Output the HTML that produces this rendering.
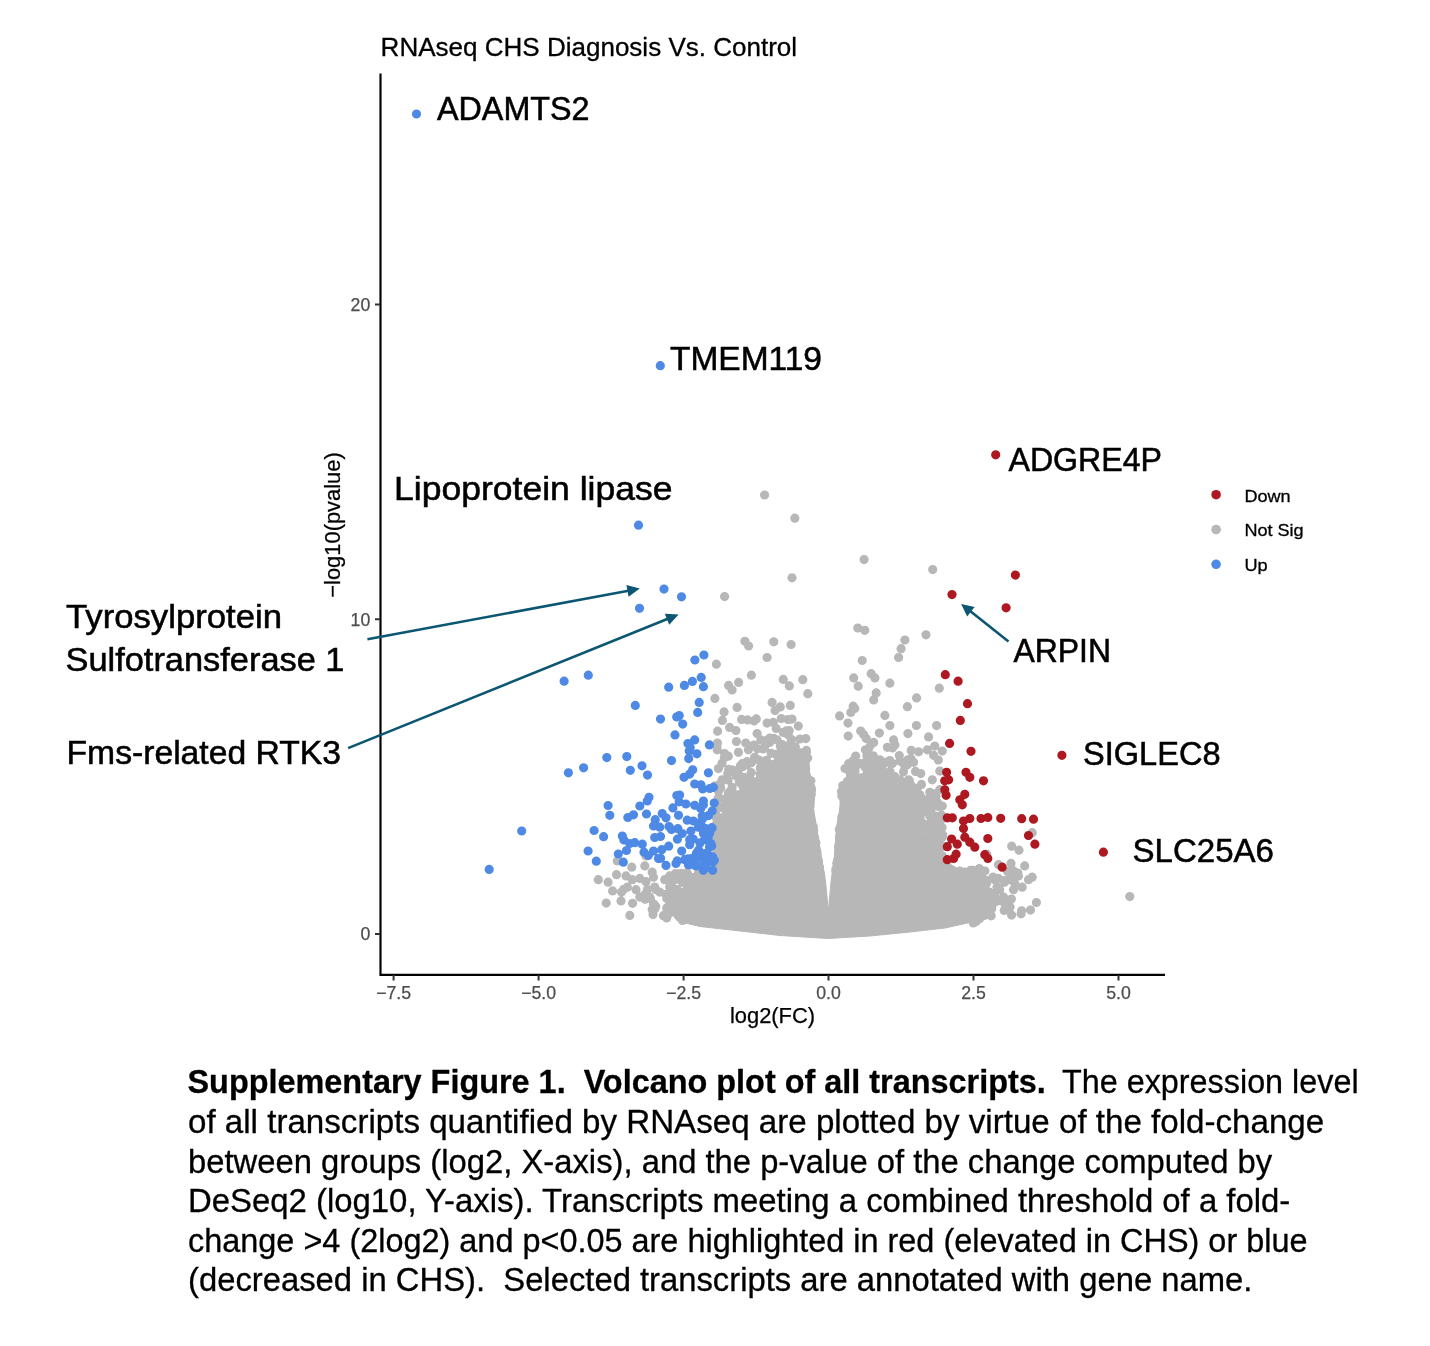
<!DOCTYPE html><html><head><meta charset="utf-8"><title>Volcano plot</title>
<style>html,body{margin:0;padding:0;background:#fff}svg{display:block;will-change:transform}text{font-family:"Liberation Sans",sans-serif}</style></head><body>
<svg width="1430" height="1346" viewBox="0 0 1430 1346">
<rect width="1430" height="1346" fill="#fff"/>
<text x="380.6" y="56.2" font-size="26" textLength="416.5" lengthAdjust="spacingAndGlyphs" fill="#000" stroke="#000" stroke-width="0.3" xml:space="preserve">RNAseq CHS Diagnosis Vs. Control</text>
<path d="M828.4,911.0 L825.6,882.0 L821.1,855.0 L816.5,827.0 L813.5,809.0 L815.5,788.0 L809.5,773.0 L809.0,758.0 L802.0,752.0 L795.0,755.0 L787.0,762.0 L776.0,765.0 L773.0,775.0 L760.0,780.0 L754.5,790.0 L742.0,797.0 L736.5,810.0 L724.0,815.0 L717.5,828.0 L716.0,847.0 L717.0,865.0 L709.5,872.0 L695.0,877.0 L687.0,890.0 L683.0,905.0 L681.0,922.0 L700.0,926.5 L740.0,931.0 L780.0,935.5 L828.0,938.5 L870.0,936.0 L910.0,932.0 L945.0,928.0 L972.0,922.0 L984.5,914.5 L987.5,897.0 L980.0,880.0 L960.0,870.0 L945.0,861.0 L937.0,856.5 L924.0,847.0 L911.0,840.0 L909.0,813.0 L906.0,795.0 L900.0,787.0 L882.0,781.0 L875.0,777.0 L864.0,777.0 L848.0,782.0 L843.0,786.0 L840.0,797.0 L840.0,809.0 L836.5,827.0 L834.5,855.0 L831.0,882.0Z" fill="#b7b7b7" stroke="#b7b7b7" stroke-width="1" stroke-linejoin="round"/>
<path d="M807.7,758.0h0M804.4,755.6h0M803.1,753.0h0M806.4,752.3h0M806.4,750.4h0M850.8,712.4h0M800.6,752.9h0M796.3,754.1h0M788.2,734.8h0M788.0,719.6h0M795.3,746.8h0M789.2,730.7h0M799.9,739.0h0M791.5,739.5h0M791.5,747.8h0M789.8,744.4h0M791.3,755.2h0M790.3,757.6h0M788.6,758.8h0M767.1,740.1h0M790.3,756.0h0M788.6,754.0h0M786.6,756.7h0M787.1,748.7h0M781.0,747.6h0M769.8,738.0h0M784.3,752.3h0M754.1,720.9h0M790.2,750.9h0M780.4,746.2h0M785.7,750.7h0M784.3,760.3h0M780.7,763.1h0M777.1,763.5h0M773.9,738.4h0M776.3,754.4h0M782.1,744.6h0M783.8,757.9h0M784.2,759.8h0M783.5,753.4h0M776.2,728.5h0M780.8,754.5h0M787.2,757.7h0M771.1,753.3h0M783.8,759.0h0M778.5,759.3h0M773.8,764.4h0M775.3,770.4h0M774.8,773.9h0M740.4,765.8h0M769.6,769.4h0M760.3,768.2h0M747.1,761.5h0M742.3,763.6h0M766.4,775.6h0M766.0,766.9h0M768.7,765.7h0M722.0,763.3h0M724.3,757.8h0M769.3,766.7h0M759.0,760.1h0M769.4,774.4h0M767.8,775.8h0M764.3,779.6h0M760.3,777.6h0M760.9,766.3h0M763.1,749.0h0M751.2,772.6h0M765.7,772.5h0M773.9,769.7h0M757.5,748.8h0M751.3,762.8h0M773.3,772.5h0M747.2,764.8h0M753.8,745.1h0M760.2,773.7h0M766.4,760.3h0M770.0,764.7h0M768.7,764.0h0M745.7,743.1h0M764.4,763.2h0M760.3,782.4h0M758.0,785.2h0M754.8,785.9h0M736.3,776.0h0M743.6,778.8h0M751.3,787.9h0M735.6,771.1h0M744.1,777.4h0M739.3,781.9h0M744.8,779.6h0M744.7,782.1h0M738.7,774.7h0M742.9,779.7h0M727.8,773.5h0M755.3,781.9h0M754.3,791.5h0M748.5,791.5h0M745.9,795.8h0M742.3,795.5h0M716.9,745.9h0M749.7,778.2h0M728.7,769.4h0M746.2,784.8h0M748.0,784.3h0M741.5,784.3h0M747.9,784.0h0M717.6,731.2h0M717.4,743.1h0M742.5,766.8h0M744.0,791.1h0M743.7,788.3h0M728.3,756.2h0M750.2,789.0h0M746.1,782.2h0M739.6,798.4h0M738.7,799.8h0M737.4,803.0h0M737.4,808.3h0M731.7,803.5h0M728.5,793.1h0M739.1,796.7h0M732.9,798.1h0M730.2,791.3h0M733.8,793.8h0M720.7,787.9h0M731.3,808.4h0M714.8,785.9h0M728.3,796.2h0M719.2,797.9h0M729.5,804.2h0M727.4,805.0h0M737.7,799.7h0M732.1,803.2h0M739.2,794.8h0M734.5,811.2h0M732.7,811.9h0M729.1,813.9h0M725.9,814.7h0M721.4,807.5h0M727.3,800.4h0M727.9,807.4h0M731.9,808.1h0M732.9,808.6h0M727.9,796.1h0M718.5,791.1h0M718.1,806.7h0M728.1,780.1h0M718.2,798.1h0M724.5,799.8h0M720.5,783.2h0M723.4,817.5h0M723.2,818.8h0M721.1,823.2h0M717.1,827.1h0M716.9,822.4h0M716.3,814.9h0M719.3,819.4h0M715.4,816.4h0M716.8,830.6h0M715.7,833.9h0M714.9,834.9h0M718.0,839.1h0M716.0,840.6h0M716.4,845.3h0M716.8,849.6h0M716.7,850.8h0M716.1,854.2h0M714.8,859.0h0M718.2,861.5h0M715.5,862.2h0M716.5,866.4h0M719.5,859.2h0M707.5,872.9h0M706.3,874.7h0M700.8,872.7h0M698.2,873.5h0M698.0,876.6h0M699.3,872.0h0M695.2,877.3h0M693.8,880.3h0M689.5,884.3h0M688.7,887.2h0M687.0,889.5h0M686.6,872.8h0M689.0,876.0h0M687.1,879.1h0M687.4,873.5h0M686.8,879.6h0M676.8,878.5h0M679.5,873.9h0M688.1,881.4h0M687.6,875.1h0M687.2,879.1h0M680.9,880.1h0M690.6,879.8h0M675.5,873.6h0M686.5,891.9h0M686.7,894.7h0M684.6,896.7h0M684.9,902.1h0M681.7,903.0h0M682.0,892.6h0M623.7,889.3h0M673.8,901.2h0M666.7,898.3h0M677.6,901.8h0M654.7,887.0h0M675.9,892.3h0M675.9,893.7h0M647.4,889.5h0M672.1,886.7h0M679.6,902.3h0M669.9,896.9h0M669.4,894.0h0M666.0,894.4h0M670.3,884.8h0M679.1,895.3h0M678.8,900.6h0M682.0,894.0h0M682.7,905.3h0M683.7,910.3h0M683.1,914.1h0M679.9,917.5h0M682.5,920.5h0M632.6,903.3h0M650.4,898.6h0M669.0,913.8h0M655.8,906.5h0M645.1,899.2h0M653.9,904.1h0M669.2,908.3h0M677.9,906.8h0M663.4,915.7h0M666.7,907.9h0M678.0,915.4h0M654.8,908.7h0M606.2,903.1h0M973.3,922.9h0M976.2,921.6h0M979.6,918.7h0M984.9,915.3h0M985.2,914.6h0M984.7,907.5h0M986.7,907.0h0M987.7,902.4h0M986.6,897.5h0M987.5,913.7h0M989.3,899.0h0M1011.4,899.0h0M991.7,908.7h0M1007.3,905.6h0M1008.7,903.0h0M1011.6,915.1h0M993.7,901.7h0M1021.6,910.8h0M991.2,915.8h0M1010.1,906.9h0M1021.1,913.8h0M1004.6,903.6h0M1005.2,909.0h0M1007.9,902.9h0M998.2,900.8h0M991.8,906.3h0M989.4,905.6h0M986.5,897.4h0M985.0,891.6h0M983.6,891.5h0M984.9,887.9h0M982.9,883.4h0M979.2,881.2h0M1011.1,878.2h0M1017.9,873.0h0M992.1,893.4h0M1007.6,871.5h0M1009.4,872.6h0M989.4,892.2h0M986.5,880.6h0M994.7,896.5h0M1004.9,881.6h0M993.1,877.1h0M998.3,878.3h0M1008.0,879.7h0M1003.8,880.6h0M984.1,880.5h0M986.7,882.9h0M997.0,886.9h0M998.1,888.9h0M1012.6,878.3h0M993.6,896.4h0M978.2,878.6h0M977.3,877.5h0M974.8,875.6h0M970.2,873.2h0M966.7,873.5h0M964.6,872.2h0M959.8,871.2h0M981.6,874.4h0M980.0,869.3h0M972.0,871.4h0M983.2,872.3h0M973.9,872.8h0M972.9,870.3h0M979.3,868.6h0M984.9,871.1h0M970.6,870.3h0M942.9,857.1h0M939.2,856.6h0M943.5,846.3h0M942.3,856.1h0M935.9,850.8h0M935.4,854.1h0M933.5,855.7h0M930.0,850.0h0M927.9,851.2h0M925.9,849.1h0M938.8,852.0h0M942.1,827.6h0M940.7,820.6h0M942.8,834.9h0M934.0,845.7h0M933.7,850.4h0M930.7,846.4h0M939.4,845.0h0M939.2,835.6h0M938.3,841.8h0M937.7,835.1h0M923.8,844.7h0M919.7,844.3h0M916.5,841.2h0M913.7,841.2h0M929.7,816.0h0M929.8,835.1h0M930.6,835.4h0M917.1,833.7h0M920.3,836.3h0M913.1,838.1h0M931.2,809.2h0M920.9,842.9h0M938.8,806.5h0M930.5,804.5h0M921.4,825.9h0M922.9,823.4h0M926.2,825.9h0M926.3,842.3h0M939.1,825.8h0M931.3,817.2h0M911.6,837.6h0M910.4,836.2h0M910.2,832.8h0M911.3,829.6h0M908.6,825.3h0M908.4,823.4h0M911.4,821.5h0M911.5,817.1h0M907.7,814.8h0M913.9,828.2h0M915.5,822.5h0M931.4,838.8h0M913.3,839.5h0M916.0,819.9h0M936.5,834.8h0M942.4,818.1h0M931.4,820.2h0M912.3,828.2h0M929.8,838.7h0M933.1,828.8h0M925.9,829.0h0M930.4,830.0h0M929.1,833.0h0M920.1,818.3h0M935.9,816.0h0M917.9,831.6h0M939.8,821.8h0M927.6,835.4h0M917.6,822.4h0M916.9,820.0h0M926.2,827.4h0M908.3,811.4h0M909.8,807.2h0M909.8,804.6h0M906.2,803.2h0M908.4,799.1h0M907.9,797.2h0M924.8,804.5h0M914.5,805.2h0M933.3,793.8h0M932.0,794.6h0M924.8,811.1h0M919.0,797.9h0M912.6,802.2h0M916.3,800.6h0M917.1,799.5h0M911.0,802.1h0M924.2,803.6h0M921.6,805.3h0M939.7,789.7h0M922.7,801.3h0M936.0,796.6h0M914.3,810.9h0M912.4,812.8h0M918.2,796.6h0M904.4,794.6h0M901.7,790.1h0M901.7,787.5h0M910.9,784.9h0M912.6,795.8h0M905.6,790.1h0M914.8,791.8h0M901.0,783.7h0M915.5,771.4h0M905.1,786.3h0M938.3,760.0h0M920.8,773.6h0M911.9,789.1h0M908.0,789.4h0M899.0,787.6h0M894.5,786.7h0M891.6,785.0h0M891.6,781.9h0M888.0,780.7h0M883.0,779.2h0M898.0,782.5h0M890.0,771.4h0M899.3,755.5h0M899.9,780.6h0M904.4,765.3h0M886.0,775.0h0M893.4,779.8h0M900.9,782.1h0M894.9,776.7h0M882.5,778.1h0M890.9,763.2h0M900.1,779.9h0M909.3,780.4h0M883.9,777.8h0M911.2,750.4h0M916.4,725.5h0M907.8,759.8h0M910.9,758.4h0M886.4,776.9h0M903.5,771.8h0M899.7,781.5h0M880.7,781.6h0M878.7,778.0h0M878.8,772.6h0M889.8,760.5h0M878.9,775.7h0M881.9,769.0h0M879.7,769.9h0M892.5,747.9h0M881.8,766.6h0M881.3,772.6h0M886.4,777.9h0M873.6,776.1h0M871.3,776.4h0M866.0,776.4h0M868.9,747.9h0M865.2,767.3h0M871.9,774.0h0M864.2,763.5h0M876.9,762.7h0M873.6,771.8h0M874.2,770.4h0M873.3,755.8h0M869.7,774.7h0M866.9,755.6h0M873.7,742.4h0M872.8,764.1h0M862.5,777.9h0M860.4,778.0h0M856.9,778.3h0M851.9,781.7h0M848.9,780.2h0M848.3,767.3h0M855.0,770.9h0M839.6,715.9h0M865.5,762.2h0M855.0,768.5h0M850.1,771.7h0M852.9,766.6h0M867.2,771.4h0M851.2,773.7h0M850.4,774.3h0M854.6,768.3h0M852.8,760.9h0M847.2,781.6h0M842.8,785.5h0M843.3,787.0h0M841.5,791.5h0M841.8,795.9h0M810.9,780.8h0M820.4,879.0h0M820.8,875.8h0M820.1,872.5h0M819.6,867.6h0M818.7,865.1h0M818.5,861.2h0M816.5,855.8h0M816.9,853.3h0M816.8,850.9h0M815.7,847.5h0M815.9,842.5h0M814.6,837.8h0M813.1,834.5h0M813.7,830.6h0M812.0,829.0h0M813.4,827.0h0M811.6,821.4h0M810.2,816.5h0M809.4,814.3h0M809.8,810.7h0M809.9,806.6h0M809.8,804.2h0M809.4,800.8h0M810.7,796.1h0M811.1,794.7h0M811.2,790.1h0M809.9,785.8h0M808.6,780.6h0M807.6,778.8h0M805.8,773.0h0M804.8,771.0h0M805.7,768.6h0M804.5,761.8h0M805.8,759.8h0M844.4,800.6h0M845.0,804.3h0M843.8,808.6h0M843.5,809.6h0M843.0,814.4h0M841.8,816.9h0M841.7,822.1h0M841.9,824.7h0M839.4,829.2h0M840.7,831.9h0M840.3,835.1h0M839.4,837.5h0M839.5,843.9h0M838.5,846.8h0M839.0,849.7h0M839.0,852.4h0M839.2,857.1h0M837.5,861.1h0M836.8,863.2h0M835.8,869.5h0M835.8,870.8h0M836.4,876.3h0M917.3,788.0h0M939.6,826.6h0M920.2,816.0h0M921.5,784.4h0M939.2,826.6h0M941.6,815.2h0M929.7,799.9h0M937.9,805.2h0M764.6,495.0h0M794.8,518.2h0M792.0,577.8h0M724.6,596.6h0M744.9,641.3h0M748.6,646.0h0M773.8,641.8h0M791.1,644.5h0M767.1,657.5h0M716.4,664.2h0M751.4,675.2h0M738.6,682.4h0M728.6,685.4h0M732.1,689.9h0M783.3,679.4h0M789.3,685.9h0M802.8,679.7h0M807.8,693.7h0M714.9,698.4h0M737.1,707.4h0M772.1,702.4h0M775.1,710.4h0M780.3,706.9h0M790.3,705.4h0M724.1,711.9h0M722.4,720.4h0M741.6,719.4h0M747.6,719.9h0M756.3,718.9h0M767.1,723.1h0M773.3,722.4h0M781.3,718.6h0M792.0,719.1h0M729.6,727.4h0M735.9,730.6h0M757.1,733.6h0M783.3,732.4h0M798.3,726.1h0M805.8,738.6h0M736.4,741.6h0M760.8,739.9h0M717.2,749.8h0M724.6,753.6h0M738.4,752.3h0M748.4,749.8h0M718.4,768.6h0M722.1,779.8h0M732.1,787.3h0M732.1,769.8h0M744.6,764.8h0M754.6,757.3h0M764.6,747.3h0M769.6,742.4h0M777.1,739.9h0M598.3,879.7h0M608.1,882.2h0M616.5,874.7h0M617.3,860.9h0M631.8,867.2h0M644.8,865.9h0M626.0,875.9h0M632.3,879.7h0M639.8,878.4h0M646.0,881.7h0M652.2,872.2h0M653.5,877.2h0M612.6,890.9h0M621.5,892.1h0M621.0,900.9h0M627.3,887.2h0M636.0,889.7h0M639.8,897.1h0M644.8,894.6h0M649.7,897.1h0M656.0,889.7h0M659.7,892.1h0M653.5,904.6h0M629.8,915.4h0M653.0,914.6h0M652.2,909.6h0M666.7,917.9h0M667.2,910.9h0M669.7,902.1h0M674.7,912.1h0M664.7,879.7h0M669.7,875.9h0M674.7,879.7h0M681.0,873.4h0M669.7,887.2h0M677.2,889.7h0M682.2,882.2h0M687.2,879.7h0M672.2,894.6h0M679.7,899.6h0M683.5,892.1h0M646.0,855.9h0M904.9,640.0h0M901.1,648.7h0M898.6,657.5h0M862.2,660.5h0M871.2,673.7h0M874.9,677.9h0M853.7,677.9h0M858.2,686.2h0M889.9,683.2h0M939.3,688.2h0M876.2,692.9h0M873.7,699.9h0M916.6,697.9h0M853.2,706.2h0M907.4,706.7h0M884.9,715.4h0M848.0,723.1h0M889.9,725.6h0M936.6,725.6h0M860.7,731.1h0M879.4,733.1h0M907.9,733.6h0M848.2,736.1h0M866.2,738.6h0M893.6,739.9h0M928.6,736.9h0M887.4,747.3h0M894.9,744.9h0M934.8,746.1h0M918.6,751.8h0M927.3,749.8h0M942.3,751.1h0M933.6,755.3h0M865.4,749.8h0M855.7,756.1h0M871.2,757.3h0M879.9,759.8h0M886.2,762.3h0M892.4,763.6h0M899.9,761.1h0M907.4,764.8h0M913.6,762.3h0M848.7,763.6h0M845.0,768.6h0M859.9,763.6h0M939.8,771.1h0M932.3,779.8h0M908.6,779.8h0M1032.2,832.7h0M1011.7,846.2h0M1019.0,850.2h0M986.8,854.2h0M998.5,864.7h0M1011.0,863.4h0M1024.7,865.9h0M1013.5,870.9h0M1018.5,875.9h0M1032.2,877.2h0M1028.5,879.7h0M1014.7,883.4h0M1022.2,887.2h0M1013.5,889.7h0M1004.7,882.2h0M994.8,879.7h0M999.7,889.7h0M1003.5,897.1h0M994.8,902.1h0M1004.2,910.4h0M1030.5,910.1h0M1036.4,902.6h0M1129.8,896.6h0M914.9,789.8h0M919.9,794.8h0M924.9,799.8h0M929.8,792.3h0M937.3,802.3h0M942.3,806.0h0M922.4,809.8h0M914.9,817.3h0M922.4,824.7h0M929.8,823.5h0M936.1,826.0h0M913.6,832.2h0M919.9,839.7h0M932.3,838.5h0M942.3,837.2h0M864.1,559.6h0M932.7,569.6h0M857.8,628.0h0M864.8,630.3h0M926.0,634.8h0M854.8,708.4h0M786.2,730.9h0M863.6,734.6h0M871.1,744.6h0" stroke="#b7b7b7" stroke-width="9.2" stroke-linecap="round" fill="none"/>
<path d="M638.5,525.2h0M664.0,589.1h0M681.5,596.8h0M639.5,608.3h0M703.9,655.0h0M694.9,660.0h0M588.3,675.2h0M564.1,681.2h0M701.2,677.4h0M692.4,681.4h0M684.4,685.4h0M668.7,687.2h0M703.4,686.7h0M699.2,702.4h0M635.3,705.4h0M697.7,712.4h0M679.2,715.6h0M676.7,716.9h0M660.5,719.1h0M682.7,724.1h0M675.0,734.9h0M694.7,739.9h0M687.9,743.6h0M690.2,747.8h0M689.2,751.1h0M709.4,744.9h0M696.9,753.8h0M688.7,758.6h0M671.5,760.6h0M606.8,757.6h0M626.8,756.6h0M642.0,765.8h0M630.3,770.3h0M583.6,767.8h0M568.4,772.8h0M647.5,775.1h0M692.7,769.8h0M689.7,774.1h0M684.0,777.3h0M708.4,772.8h0M694.7,784.0h0M700.9,784.8h0M702.7,789.0h0M709.7,788.5h0M713.4,787.3h0M649.0,797.3h0M647.3,801.0h0M608.1,805.5h0M639.8,806.0h0M679.2,801.8h0M685.9,804.0h0M694.7,805.3h0M703.4,801.0h0M703.4,804.8h0M712.2,811.0h0M609.8,815.3h0M633.5,814.8h0M627.8,817.5h0M646.5,814.0h0M662.2,813.5h0M666.0,817.8h0M678.5,815.3h0M687.2,820.2h0M693.4,821.0h0M702.2,816.0h0M700.9,822.2h0M655.2,819.7h0M653.5,826.0h0M659.7,827.2h0M669.0,826.5h0M690.9,831.0h0M698.4,827.2h0M705.9,828.5h0M703.4,833.5h0M708.4,836.0h0M594.1,830.5h0M603.6,836.7h0M622.3,836.0h0M660.5,836.5h0M682.2,833.5h0M689.7,839.7h0M704.7,839.7h0M521.7,831.0h0M629.8,843.5h0M634.8,842.7h0M642.3,844.2h0M689.7,844.7h0M710.9,843.5h0M588.1,851.0h0M626.5,850.5h0M653.5,851.0h0M661.7,849.7h0M681.7,851.0h0M697.2,852.2h0M704.7,853.5h0M618.3,854.0h0M644.0,852.2h0M709.7,857.2h0M699.7,857.2h0M692.2,858.4h0M684.7,859.7h0M677.2,860.9h0M596.3,861.2h0M623.3,862.2h0M666.0,865.4h0M676.0,863.4h0M688.4,864.7h0M695.9,865.9h0M705.9,867.7h0M489.2,869.4h0M416.5,114.0h0M660.3,365.7h0M714.2,803.1h0M703.2,817.9h0M700.7,808.5h0M708.5,815.6h0M679.6,795.1h0M676.8,795.6h0M677.4,839.2h0M700.0,842.9h0M671.4,829.4h0M668.7,846.2h0M709.7,833.1h0M708.2,834.2h0M654.7,837.5h0M707.0,833.4h0M711.8,827.7h0M623.9,839.9h0M712.1,827.9h0M708.5,832.9h0M700.2,853.9h0M712.7,856.9h0M711.7,846.0h0M706.7,857.3h0M709.5,847.1h0M709.9,858.3h0M707.8,854.0h0M658.5,858.6h0M710.6,861.2h0M703.7,859.9h0M705.8,855.3h0M712.7,870.3h0M714.3,860.3h0M704.0,864.0h0M712.9,862.0h0M711.0,858.2h0M704.6,859.8h0M703.3,870.3h0M712.6,859.5h0M677.9,828.7h0M695.8,865.1h0M691.6,860.2h0M698.7,849.9h0M672.9,807.9h0M696.4,853.5h0M688.0,858.8h0M703.4,867.2h0M693.2,839.0h0M689.6,864.8h0M648.3,855.5h0M660.6,858.3h0" stroke="#4e8ae5" stroke-width="9.2" stroke-linecap="round" fill="none"/>
<path d="M945.3,674.7h0M958.1,681.2h0M967.5,703.7h0M960.3,720.4h0M949.6,743.4h0M971.0,751.3h0M1061.9,755.3h0M946.6,772.3h0M948.6,779.8h0M966.0,772.3h0M969.8,777.3h0M983.5,780.8h0M944.8,789.8h0M946.1,795.3h0M964.8,794.3h0M959.8,799.8h0M962.3,804.8h0M947.3,817.8h0M952.3,817.8h0M963.5,821.0h0M969.8,818.5h0M981.0,818.5h0M987.8,817.5h0M1000.7,818.3h0M1021.7,818.7h0M1033.5,819.2h0M963.5,828.5h0M964.8,837.2h0M951.6,839.0h0M957.3,844.2h0M969.8,842.2h0M974.8,847.2h0M987.8,838.5h0M947.3,846.7h0M1028.5,835.5h0M1034.9,844.2h0M956.1,854.2h0M953.6,858.4h0M947.3,859.7h0M984.8,854.7h0M987.8,858.4h0M1103.4,852.2h0M1002.2,867.2h0M1015.4,575.1h0M952.0,594.6h0M1006.1,607.8h0M944.7,780.8h0M995.7,454.8h0" stroke="#ae1921" stroke-width="9.2" stroke-linecap="round" fill="none"/>
<path d="M380.5,73.5V974.8H1165" fill="none" stroke="#000" stroke-width="2.15" stroke-linejoin="miter"/>
<path d="M375,304.5H380M375,619.3H380M375,934.0H380M393.6,975V980.5M538.6,975V980.5M683.6,975V980.5M828.5,975V980.5M973.5,975V980.5M1118.5,975V980.5" stroke="#333" stroke-width="2" fill="none"/>
<text x="370.3" y="310.7" font-size="17.7" text-anchor="end" fill="#4d4d4d" stroke="#4d4d4d" stroke-width="0.25" xml:space="preserve">20</text>
<text x="370.3" y="625.5" font-size="17.7" text-anchor="end" fill="#4d4d4d" stroke="#4d4d4d" stroke-width="0.25" xml:space="preserve">10</text>
<text x="370.3" y="940.2" font-size="17.7" text-anchor="end" fill="#4d4d4d" stroke="#4d4d4d" stroke-width="0.25" xml:space="preserve">0</text>
<text x="393.6" y="998.6" font-size="17.7" text-anchor="middle" fill="#4d4d4d" stroke="#4d4d4d" stroke-width="0.25" xml:space="preserve">−7.5</text>
<text x="538.6" y="998.6" font-size="17.7" text-anchor="middle" fill="#4d4d4d" stroke="#4d4d4d" stroke-width="0.25" xml:space="preserve">−5.0</text>
<text x="683.6" y="998.6" font-size="17.7" text-anchor="middle" fill="#4d4d4d" stroke="#4d4d4d" stroke-width="0.25" xml:space="preserve">−2.5</text>
<text x="828.5" y="998.6" font-size="17.7" text-anchor="middle" fill="#4d4d4d" stroke="#4d4d4d" stroke-width="0.25" xml:space="preserve">0.0</text>
<text x="973.5" y="998.6" font-size="17.7" text-anchor="middle" fill="#4d4d4d" stroke="#4d4d4d" stroke-width="0.25" xml:space="preserve">2.5</text>
<text x="1118.5" y="998.6" font-size="17.7" text-anchor="middle" fill="#4d4d4d" stroke="#4d4d4d" stroke-width="0.25" xml:space="preserve">5.0</text>
<text x="772.5" y="1023" font-size="21.9" text-anchor="middle" fill="#000" stroke="#000" stroke-width="0.25" xml:space="preserve">log2(FC)</text>
<text transform="translate(340.0,525) rotate(-90)" font-size="21.9" text-anchor="middle" stroke="#000" stroke-width="0.25">−log10(pvalue)</text>
<circle cx="1216.1" cy="494.7" r="4.8" fill="#ae1921"/>
<text x="1244.4" y="501.59999999999997" font-size="17.3" textLength="46.2" lengthAdjust="spacingAndGlyphs" fill="#000" stroke="#000" stroke-width="0.3" xml:space="preserve">Down</text>
<circle cx="1216.1" cy="529.5" r="4.8" fill="#b7b7b7"/>
<text x="1244.4" y="536.4" font-size="17.3" textLength="59.2" lengthAdjust="spacingAndGlyphs" fill="#000" stroke="#000" stroke-width="0.3" xml:space="preserve">Not Sig</text>
<circle cx="1216.1" cy="564.3" r="4.8" fill="#4e8ae5"/>
<text x="1244.4" y="571.1999999999999" font-size="17.3" textLength="23.2" lengthAdjust="spacingAndGlyphs" fill="#000" stroke="#000" stroke-width="0.3" xml:space="preserve">Up</text>
<text x="437.0" y="120.3" font-size="33.5" textLength="152.5" lengthAdjust="spacingAndGlyphs" fill="#000" stroke="#000" stroke-width="0.55" xml:space="preserve">ADAMTS2</text>
<text x="670.0" y="369.5" font-size="33.5" textLength="152" lengthAdjust="spacingAndGlyphs" fill="#000" stroke="#000" stroke-width="0.55" xml:space="preserve">TMEM119</text>
<text x="1008.5" y="471.0" font-size="33.5" textLength="153.5" lengthAdjust="spacingAndGlyphs" fill="#000" stroke="#000" stroke-width="0.55" xml:space="preserve">ADGRE4P</text>
<text x="1013.5" y="661.9" font-size="33.5" textLength="97.5" lengthAdjust="spacingAndGlyphs" fill="#000" stroke="#000" stroke-width="0.55" xml:space="preserve">ARPIN</text>
<text x="1083.0" y="764.9" font-size="33.5" textLength="137.5" lengthAdjust="spacingAndGlyphs" fill="#000" stroke="#000" stroke-width="0.55" xml:space="preserve">SIGLEC8</text>
<text x="1132.5" y="861.8" font-size="33.5" textLength="141.5" lengthAdjust="spacingAndGlyphs" fill="#000" stroke="#000" stroke-width="0.55" xml:space="preserve">SLC25A6</text>
<text x="394.0" y="499.7" font-size="33.5" textLength="278.5" lengthAdjust="spacingAndGlyphs" fill="#000" stroke="#000" stroke-width="0.55" xml:space="preserve">Lipoprotein lipase</text>
<text x="66.0" y="627.7" font-size="33.5" textLength="216" lengthAdjust="spacingAndGlyphs" fill="#000" stroke="#000" stroke-width="0.55" xml:space="preserve">Tyrosylprotein</text>
<text x="65.5" y="670.6" font-size="33.5" textLength="279" lengthAdjust="spacingAndGlyphs" fill="#000" stroke="#000" stroke-width="0.55" xml:space="preserve">Sulfotransferase 1</text>
<text x="66.5" y="764.0" font-size="33.5" textLength="274.5" lengthAdjust="spacingAndGlyphs" fill="#000" stroke="#000" stroke-width="0.55" xml:space="preserve">Fms-related RTK3</text>
<line x1="367.4" y1="639.2" x2="628.5" y2="590.7" stroke="#0b5673" stroke-width="2.6"/><polygon points="639.8,588.6 628.6,596.7 626.4,585.1" fill="#0b5673"/>
<line x1="348.1" y1="748.1" x2="667.9" y2="618.8" stroke="#0b5673" stroke-width="2.6"/><polygon points="678.6,614.5 669.2,624.7 664.8,613.7" fill="#0b5673"/>
<line x1="1008.5" y1="641.5" x2="970.1" y2="611.1" stroke="#0b5673" stroke-width="2.6"/><polygon points="961.1,604.0 974.6,607.1 967.2,616.4" fill="#0b5673"/>
<text x="187.5" y="1093.4" font-size="32.5" textLength="858.3" lengthAdjust="spacingAndGlyphs" font-weight="bold" fill="#000" stroke="#000" stroke-width="0.3" xml:space="preserve">Supplementary Figure 1.  Volcano plot of all transcripts.</text>
<text x="1062.0" y="1093.4" font-size="32.5" textLength="296.5999999999999" lengthAdjust="spacingAndGlyphs" fill="#000" stroke="#000" stroke-width="0.3" xml:space="preserve">The expression level</text>
<text x="188.0" y="1133.4" font-size="32.5" textLength="1136.2" lengthAdjust="spacingAndGlyphs" fill="#000" stroke="#000" stroke-width="0.3" xml:space="preserve">of all transcripts quantified by RNAseq are plotted by virtue of the fold-change</text>
<text x="188.0" y="1172.9" font-size="32.5" textLength="1084.2" lengthAdjust="spacingAndGlyphs" fill="#000" stroke="#000" stroke-width="0.3" xml:space="preserve">between groups (log2, X-axis), and the p-value of the change computed by</text>
<text x="188.0" y="1212.4" font-size="32.5" textLength="1102.3" lengthAdjust="spacingAndGlyphs" fill="#000" stroke="#000" stroke-width="0.3" xml:space="preserve">DeSeq2 (log10, Y-axis). Transcripts meeting a combined threshold of a fold-</text>
<text x="188.0" y="1251.9" font-size="32.5" textLength="1119.5" lengthAdjust="spacingAndGlyphs" fill="#000" stroke="#000" stroke-width="0.3" xml:space="preserve">change &gt;4 (2log2) and p&lt;0.05 are highlighted in red (elevated in CHS) or blue</text>
<text x="188.0" y="1291.3" font-size="32.5" textLength="1064.4" lengthAdjust="spacingAndGlyphs" fill="#000" stroke="#000" stroke-width="0.3" xml:space="preserve">(decreased in CHS).  Selected transcripts are annotated with gene name.</text>
</svg></body></html>
